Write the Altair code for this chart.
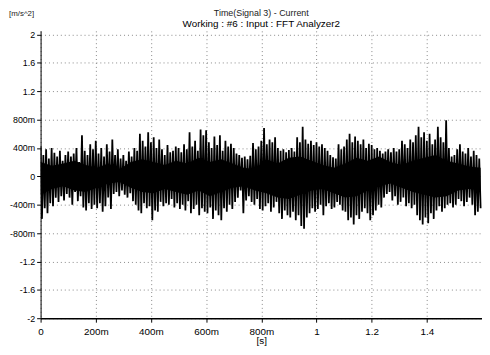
import altair as alt
import pandas as pd

# Envelope of the signal, read per 10 ms bin: peak high and peak low [m/s^2]
hi = [0.42,0.30,0.38,0.25,0.40,0.33,0.28,0.36,0.22,0.30,
      0.35,0.28,0.32,0.40,0.20,0.58,0.36,0.30,0.45,0.38,
      0.50,0.32,0.40,0.28,0.45,0.35,0.52,0.30,0.38,0.25,
      0.30,0.22,0.35,0.28,0.40,0.36,0.60,0.50,0.42,0.62,
      0.48,0.55,0.40,0.52,0.38,0.30,0.44,0.34,0.36,0.42,
      0.40,0.34,0.45,0.38,0.62,0.42,0.50,0.36,0.66,0.58,
      0.65,0.48,0.40,0.56,0.44,0.58,0.36,0.50,0.42,0.46,
      0.40,0.32,0.30,0.26,0.28,0.24,0.29,0.47,0.38,0.42,
      0.50,0.68,0.45,0.52,0.48,0.55,0.40,0.36,0.38,0.34,
      0.37,0.40,0.35,0.55,0.48,0.70,0.52,0.46,0.50,0.44,
      0.48,0.42,0.45,0.40,0.36,0.30,0.27,0.25,0.45,0.38,
      0.42,0.52,0.60,0.48,0.56,0.50,0.45,0.52,0.40,0.46,
      0.44,0.38,0.40,0.36,0.32,0.35,0.38,0.34,0.40,0.35,
      0.38,0.50,0.45,0.40,0.52,0.48,0.58,0.70,0.55,0.62,
      0.50,0.60,0.45,0.52,0.70,0.55,0.48,0.79,0.40,0.28,
      0.30,0.38,0.45,0.35,0.32,0.40,0.28,0.36,0.30,0.25]
lo = [-0.60,-0.45,-0.52,-0.38,-0.42,-0.30,-0.36,-0.28,-0.34,-0.25,
      -0.30,-0.40,-0.22,-0.35,-0.28,-0.44,-0.48,-0.38,-0.46,-0.40,
      -0.45,-0.38,-0.50,-0.42,-0.30,-0.46,-0.25,-0.22,-0.28,-0.20,
      -0.26,-0.30,-0.24,-0.35,-0.40,-0.48,-0.52,-0.38,-0.45,-0.42,
      -0.62,-0.48,-0.50,-0.36,-0.42,-0.38,-0.40,-0.32,-0.44,-0.38,
      -0.46,-0.40,-0.48,-0.35,-0.52,-0.46,-0.40,-0.55,-0.45,-0.50,
      -0.52,-0.44,-0.60,-0.48,-0.55,-0.62,-0.45,-0.50,-0.40,-0.46,
      -0.36,-0.30,-0.20,-0.52,-0.34,-0.28,-0.36,-0.40,-0.32,-0.46,
      -0.48,-0.42,-0.38,-0.50,-0.44,-0.36,-0.52,-0.60,-0.48,-0.55,
      -0.58,-0.50,-0.62,-0.55,-0.70,-0.74,-0.58,-0.52,-0.45,-0.50,
      -0.46,-0.40,-0.55,-0.42,-0.38,-0.46,-0.44,-0.36,-0.40,-0.48,
      -0.50,-0.62,-0.58,-0.68,-0.55,-0.60,-0.50,-0.45,-0.52,-0.62,
      -0.55,-0.48,-0.40,-0.44,-0.30,-0.25,-0.22,-0.34,-0.28,-0.40,
      -0.36,-0.30,-0.42,-0.38,-0.45,-0.40,-0.55,-0.62,-0.68,-0.58,
      -0.66,-0.52,-0.60,-0.48,-0.42,-0.50,-0.45,-0.40,-0.38,-0.44,
      -0.40,-0.32,-0.35,-0.42,-0.36,-0.30,-0.40,-0.55,-0.50,-0.45]

# Dense (solid black) core of the trace, read per 40 ms
core_hi = [0.20,0.15,0.18,0.22,0.16,0.12,0.18,0.10,0.20,0.24,
           0.20,0.16,0.22,0.18,0.26,0.20,0.24,0.18,0.12,0.10,
           0.24,0.18,0.26,0.28,0.22,0.16,0.12,0.18,0.26,0.22,
           0.28,0.20,0.16,0.22,0.26,0.30,0.22,0.18,0.14,0.12]
core_lo = [-0.26,-0.18,-0.14,-0.20,-0.22,-0.16,-0.10,-0.08,-0.16,-0.22,
           -0.24,-0.18,-0.22,-0.26,-0.20,-0.28,-0.22,-0.16,-0.14,-0.20,
           -0.24,-0.30,-0.32,-0.26,-0.20,-0.18,-0.24,-0.30,-0.28,-0.20,
           -0.14,-0.10,-0.16,-0.22,-0.26,-0.30,-0.28,-0.20,-0.18,-0.20]

bin_s = 0.01
x_ticks = [0, 0.2, 0.4, 0.6, 0.8, 1.0, 1.2, 1.4]
y_ticks = [-2, -1.6, -1.2, -0.8, -0.4, 0, 0.4, 0.8, 1.2, 1.6, 2]
title_lines = ["Time(Signal 3) - Current", "Working : #6 : Input : FFT Analyzer2"]
unit_label = "[m/s^2]"

rows = []
for i, (h, l) in enumerate(zip(hi, lo)):
    rows.append({"t": i * bin_s, "v": h, "o": 2 * i})
    rows.append({"t": i * bin_s + bin_s / 2, "v": l, "o": 2 * i + 1})
df = pd.DataFrame(rows)

n_core = len(core_hi)
t_end = (len(hi) - 0.5) * bin_s
core_df = pd.DataFrame({
    "t": [k * t_end / (n_core - 1) for k in range(n_core)],
    "v": core_hi, "b": core_lo,
})

lab = "datum.value == 0 ? '0' : (abs(datum.value) < 0.999 ? format(datum.value*1000, '.0f') + 'm' : format(datum.value, '~g'))"
lab = "replace(" + lab + ", '\u2212', '-')"

FONT = "Liberation Sans"
W, H = 447, 291

xscale = alt.Scale(domain=[0, 1.6], nice=False, zero=False)
yscale = alt.Scale(domain=[-2, 2.05], nice=False, zero=False)
xaxis = alt.Axis(values=x_ticks, labelExpr=lab, title="[s]",
                 titleFontWeight="normal", titleFontSize=10, titlePadding=0,
                 labelFontSize=10, labelPadding=4, tickSize=4, labelOverlap=False,
                 grid=True, gridDash=[1, 3], gridColor="#888888",
                 domainColor="black", domainWidth=1.5, tickColor="black",
                 labelColor="black", titleColor="black", labelFlush=False)
yaxis = alt.Axis(values=y_ticks, labelExpr=lab, title=None,
                 labelFontSize=9, labelPadding=2, tickSize=4, labelOverlap=False,
                 grid=True, gridDash=[1, 3], gridColor="#888888",
                 domainColor="black", domainWidth=1, tickColor="black",
                 labelColor="black", labelFlush=False)

signal = alt.Chart(df).mark_line(color="black", strokeWidth=1.8, clip=True).encode(
    x=alt.X("t:Q", scale=xscale, axis=xaxis, title="[s]"),
    y=alt.Y("v:Q", scale=yscale, axis=yaxis, title=None),
    order="o:Q",
)

core = alt.Chart(core_df).mark_area(color="black", opacity=1, interpolate="linear", clip=True).encode(
    x=alt.X("t:Q", scale=xscale, axis=xaxis, title="[s]"),
    y=alt.Y("v:Q", scale=yscale, axis=yaxis, title=None),
    y2="b:Q",
)

t1 = alt.Chart(pd.DataFrame({"txt": [title_lines[0]]})).mark_text(
    font=FONT, fontSize=9, color="#222222", align="center", baseline="middle"
).encode(text="txt:N", x=alt.value(W / 2), y=alt.value(-18))
t2 = alt.Chart(pd.DataFrame({"txt": [title_lines[1]]})).mark_text(
    font=FONT, fontSize=10, color="black", align="center", baseline="middle"
).encode(text="txt:N", x=alt.value(W / 2), y=alt.value(-7))
unit = alt.Chart(pd.DataFrame({"txt": [unit_label]})).mark_text(
    font=FONT, fontSize=8, color="#222222", align="left", baseline="middle"
).encode(text="txt:N", x=alt.value(-32), y=alt.value(-17))

chart = alt.layer(signal, core, t1, t2, unit).properties(
    width=W, height=H,
    autosize=alt.AutoSizeParams(type="none"),
    padding={"left": 33, "top": 21, "right": 0, "bottom": 27},
).configure_axis(
    labelFont=FONT, titleFont=FONT
).configure_view(stroke=None)

chart.save("out.html", embed_options={"renderer": "svg", "actions": False})
